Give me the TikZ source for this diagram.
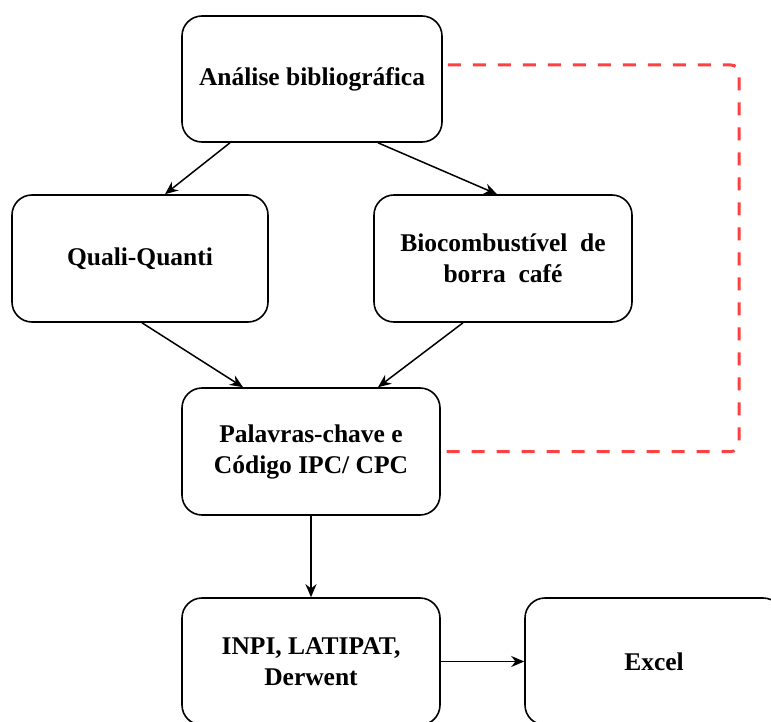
\documentclass[tikz,border=0pt]{standalone}
\usepackage{fontspec}
\setmainfont{Liberation Serif}
\usetikzlibrary{arrows.meta}
\definecolor{dashred}{RGB}{255,64,64}
\begin{document}
\begin{tikzpicture}[x=1pt,y=-1pt,
  box/.style={draw=black, line width=1.6pt, rounded corners=20pt, minimum width=258pt, minimum height=127pt,
    align=center, inner sep=0pt, font=\fontsize{25.5}{31}\selectfont\bfseries},
  arr/.style={draw=black, line width=1.5pt, -{Stealth[length=13pt,width=11pt]}},
  link/.style={draw=dashred, line width=3pt, dash pattern=on 13pt off 12pt, rounded corners=8pt}]
\useasboundingbox (0,0) rectangle (771,722);
\node[box, minimum width=260pt, minimum height=126pt] (A) at (312,79) {Análise bibliográfica};
\node[box, minimum width=256pt] (Q) at (140,258.5) {Quali-Quanti};
\node[box] (B) at (503,258.5) {Biocombustível\ \ de\\borra\ \ café};
\node[box] (P) at (311,451.5) {Palavras-chave e\\Código IPC/ CPC};
\node[box] (I) at (311,661.5) {INPI, LATIPAT,\\Derwent};
\node[box] (E) at (654,661.5) {Excel};
\coordinate (r0) at ([yshift=14pt]A.east);
\coordinate (r1) at (739,65);
\coordinate (r2) at (739,451.5);
\draw[arr] ([xshift=-82pt]A.south) -- ([xshift=25pt]Q.north);
\draw[arr] ([xshift=66pt]A.south) -- ([xshift=-6pt]B.north);
\draw[arr] ([xshift=2pt]Q.south) -- ([xshift=-68pt]P.north);
\draw[arr] ([xshift=-40pt]B.south) -- ([xshift=67pt]P.north);
\draw[arr] (P.south) -- (I.north);
\draw[arr] (I.east) -- (E.west);
\draw[link] ([xshift=5pt]r0) -- (r1) -- (r2) -- (P.east);
\end{tikzpicture}
\end{document}
